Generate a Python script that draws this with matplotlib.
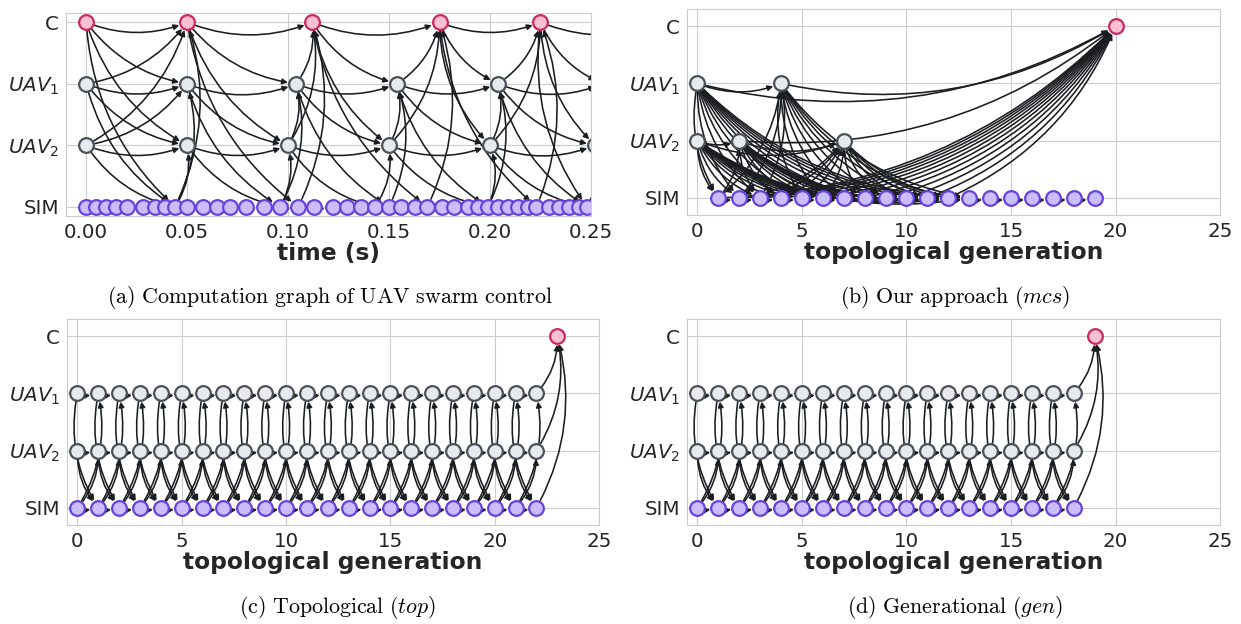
import matplotlib
matplotlib.use("Agg")
import matplotlib.pyplot as plt
from matplotlib.patches import FancyArrowPatch
import seaborn as sns

sns.set_style("whitegrid")
plt.rcParams['font.family'] = ['DejaVu Sans']

ROW_Y = {"SIM": 0, "UAV2": 1, "UAV1": 2, "C": 3}
ROW_LABELS = ["SIM", r"$UAV_2$", r"$UAV_1$", "C"]

# node colours (face, edge)
STYLE = {
    "C": ("#f9bfd3", "#c92a5c"),
    "UAV1": ("#e6e9ed", "#4b5158"),
    "UAV2": ("#e6e9ed", "#4b5158"),
    "SIM": ("#c9bdfb", "#6842de"),
}

# ---- (a) computation graph over time (seconds) ----
a_c = [0.0, 0.05, 0.112, 0.175, 0.225, 0.288]
a_uav1 = [0.0, 0.05, 0.104, 0.154, 0.204, 0.256]
a_uav2 = [0.0, 0.05, 0.10, 0.15, 0.20, 0.252]
a_sim = [0.000, 0.005, 0.010, 0.015, 0.020, 0.028, 0.034, 0.039, 0.044, 0.050,
         0.058, 0.065, 0.071, 0.079, 0.088, 0.096, 0.105, 0.113, 0.122, 0.129,
         0.136, 0.143, 0.150, 0.156, 0.163, 0.169, 0.176, 0.182, 0.189, 0.194,
         0.199, 0.204, 0.209, 0.214, 0.219, 0.223, 0.229, 0.234, 0.239, 0.244,
         0.248]

# ---- (b) our approach (mcs): generation of each node ----
b_c = [20]
b_uav1 = [0, 4]
b_uav2 = [0, 2, 7]
b_sim = list(range(1, 20))
# (source kind, source gen, first sim gen, last sim gen)
b_fans = [("UAV1", 0, 1, 13), ("UAV2", 0, 1, 13), ("UAV1", 4, 5, 13),
          ("UAV2", 2, 3, 12), ("UAV2", 7, 8, 13)]
# (first sim gen, last sim gen, target kind, target gen)
b_sim_in = [(1, 3, "UAV1", 4), (1, 1, "UAV2", 2), (2, 6, "UAV2", 7), (1, 12, "C", 20)]
b_other = [(("UAV1", 0), ("UAV1", 4)), (("UAV2", 0), ("UAV2", 2)),
           (("UAV2", 2), ("UAV2", 7)), (("UAV2", 0), ("UAV2", 7)),
           (("UAV1", 0), ("C", 20)), (("UAV1", 4), ("C", 20)),
           (("UAV2", 2), ("C", 20))]

# ---- (c) topological and (d) generational ----
c_cols = list(range(23))
c_final = 23
d_cols = list(range(19))
d_final = 19


def latest_before(times, t):
    prev = [u for u in times if u < t - 1e-9]
    return max(prev) if prev else None


def edges_time_graph(nodes):
    edges = []
    for kind in ["C", "UAV1", "UAV2"]:
        times = nodes[kind]
        for t in times:
            for src in ["C", "UAV1", "UAV2", "SIM"]:
                s = latest_before(nodes[src], t)
                if s is not None:
                    edges.append(((src, s), (kind, t)))
        for k in range(len(times) - 1):
            hub = latest_before(nodes["SIM"], times[k + 1])
            edges.append(((kind, times[k]), ("SIM", hub)))
    sims = nodes["SIM"]
    for k in range(len(sims) - 1):
        edges.append((("SIM", sims[k]), ("SIM", sims[k + 1])))
    return edges


def edges_layered(cols, final):
    edges = []
    for i in cols[:-1]:
        for k in ["UAV1", "UAV2", "SIM"]:
            edges.append(((k, i), (k, i + 1)))
        edges.append((("UAV1", i), ("SIM", i + 1)))
        edges.append((("UAV2", i), ("SIM", i + 1)))
        edges.append((("SIM", i), ("UAV1", i + 1)))
        edges.append((("SIM", i), ("UAV2", i + 1)))
    for k in ["UAV1", "UAV2", "SIM"]:
        edges.append(((k, cols[-1]), ("C", final)))
    return edges


def draw_graph(ax, nodes, edges):
    for (sk, sx), (dk, dx) in edges:
        arr = FancyArrowPatch((sx, ROW_Y[sk]), (dx, ROW_Y[dk]),
                              connectionstyle="arc3,rad=0.2", arrowstyle="-|>",
                              mutation_scale=8, lw=1.15, color="#1b1d20",
                              shrinkA=6, shrinkB=6, zorder=1)
        ax.add_patch(arr)
    for kind, xs in nodes.items():
        face, edge = STYLE[kind]
        ax.scatter(xs, [ROW_Y[kind]] * len(xs), s=112, c=face, edgecolors=edge,
                   linewidths=1.6, zorder=2)


def style_axes(ax, xlim, ylim, xticks, xlabel, fmt=None):
    ax.set_xlim(*xlim)
    ax.set_ylim(*ylim)
    ax.set_xticks(xticks)
    if fmt:
        ax.set_xticklabels([fmt % v for v in xticks])
    ax.set_yticks([0, 1, 2, 3])
    ax.set_yticklabels(ROW_LABELS)
    ax.tick_params(length=3, width=0.8, color=".35", labelsize=14.3,
                   labelcolor=".15", pad=2)
    ax.set_xlabel(xlabel, fontsize=16.8, fontweight="bold", color=".15", labelpad=0)
    ax.set_axisbelow(True)


fig = plt.figure(figsize=(12.41, 6.24), dpi=100)
ax_a = fig.add_axes([0.0532, 0.6538, 0.4230, 0.3253])
ax_b = fig.add_axes([0.5536, 0.6554, 0.4295, 0.3301])
ax_c = fig.add_axes([0.0540, 0.1587, 0.4287, 0.3301])
ax_d = fig.add_axes([0.5536, 0.1587, 0.4295, 0.3301])

nodes_a = {"C": a_c, "UAV1": a_uav1, "UAV2": a_uav2, "SIM": a_sim}
draw_graph(ax_a, nodes_a, edges_time_graph(nodes_a))
style_axes(ax_a, (-0.01, 0.25), (-0.15, 3.15),
           [0.0, 0.05, 0.10, 0.15, 0.20, 0.25], "time (s)", "%.2f")

edges_b = list(b_other)
for kind, g, lo, hi in b_fans:
    for s in range(lo, hi + 1):
        edges_b.append(((kind, g), ("SIM", s)))
for lo, hi, kind, g in b_sim_in:
    for s in range(lo, hi + 1):
        edges_b.append((("SIM", s), (kind, g)))
for k in range(len(b_sim) - 1):
    edges_b.append((("SIM", b_sim[k]), ("SIM", b_sim[k + 1])))
draw_graph(ax_b, {"C": b_c, "UAV1": b_uav1, "UAV2": b_uav2, "SIM": b_sim}, edges_b)
style_axes(ax_b, (-0.5, 25), (-0.3, 3.3), [0, 5, 10, 15, 20, 25],
           "topological generation")

draw_graph(ax_c, {"C": [c_final], "UAV1": c_cols, "UAV2": c_cols, "SIM": c_cols},
           edges_layered(c_cols, c_final))
style_axes(ax_c, (-0.5, 25), (-0.3, 3.3), [0, 5, 10, 15, 20, 25],
           "topological generation")

draw_graph(ax_d, {"C": [d_final], "UAV1": d_cols, "UAV2": d_cols, "SIM": d_cols},
           edges_layered(d_cols, d_final))
style_axes(ax_d, (-0.5, 25), (-0.3, 3.3), [0, 5, 10, 15, 20, 25],
           "topological generation")

captions = [
    (0.266, 0.524, r"$\mathrm{(a)\ Computation\ graph\ of\ UAV\ swarm\ control}$"),
    (0.7695, 0.524, r"$\mathrm{(b)\ Our\ approach\ (}\mathit{mcs}\mathrm{)}$"),
    (0.2716, 0.027, r"$\mathrm{(c)\ Topological\ (}\mathit{top}\mathrm{)}$"),
    (0.7695, 0.027, r"$\mathrm{(d)\ Generational\ (}\mathit{gen}\mathrm{)}$"),
]
for x, y, txt in captions:
    fig.text(x, y, txt, math_fontfamily="cm", fontsize=15.8, ha="center",
             va="center", color="black")

fig.savefig("out.png", dpi=100)
